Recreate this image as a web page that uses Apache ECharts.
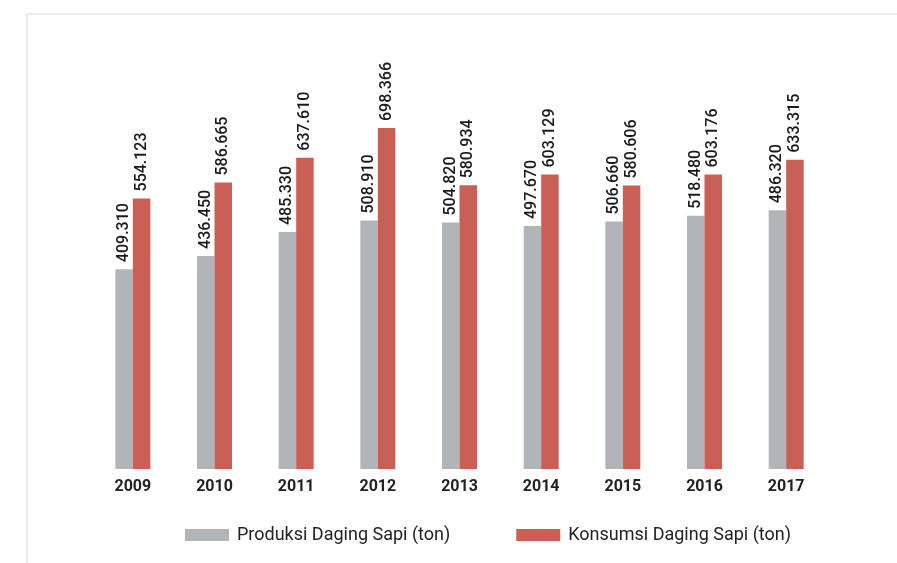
<!DOCTYPE html>
<html><head><meta charset="utf-8">
<script src="https://cdn.jsdelivr.net/npm/echarts@6/dist/echarts.min.js"></script>
<style>html,body{margin:0;padding:0;background:#fff}#c{width:897px;height:563px}</style>
</head><body><div id="c"></div>
<script>
const years = ['2009','2010','2011','2012','2013','2014','2015','2016','2017'];
// bar heights as drawn in the reference
const produksi = [409310, 436450, 485330, 508910, 504820, 497670, 506660, 518480, 530000];
const konsumsi = [554123, 586665, 637610, 698366, 580934, 603129, 580606, 603176, 633315];
// value labels as printed in the reference
const produksiLabels = ['409.310','436.450','485.330','508.910','504.820','497.670','506.660','518.480','486.320'];
const konsumsiLabels = ['554.123','586.665','637.610','698.366','580.934','603.129','580.606','603.176','633.315'];
const seriesNames = ['Produksi Daging Sapi (ton)', 'Konsumsi Daging Sapi (ton)'];

const chart = echarts.init(document.getElementById('c'));
const labelCfg = (arr) => ({
  show: true, position: 'top', rotate: 90, align: 'left', verticalAlign: 'middle',
  distance: 7, fontFamily: 'Roboto', fontWeight: 500, fontSize: 16, color: '#1a1a1a',
  formatter: p => arr[p.dataIndex]
});
chart.setOption({
  animation: false,
  backgroundColor: '#fff',
  graphic: [
    {type: 'line', shape: {x1: 27, y1: 14, x2: 897, y2: 14}, style: {stroke: '#e6e6e6', lineWidth: 1.5}},
    {type: 'line', shape: {x1: 27, y1: 14, x2: 27, y2: 563}, style: {stroke: '#e6e6e6', lineWidth: 1.5}}
  ],
  grid: {left: 92, right: 70, top: 78.4, bottom: 94, containLabel: false},
  legend: {
    bottom: 14, left: 180, itemWidth: 44, itemHeight: 12, itemGap: 66,
    icon: 'rect',
    textStyle: {fontFamily: 'Roboto', fontSize: 18, color: '#222', padding: [0, 0, 0, 3]},
    data: seriesNames
  },
  xAxis: {
    type: 'category', data: years,
    axisLine: {show: false}, axisTick: {show: false},
    axisLabel: {fontFamily: 'Roboto', fontWeight: 'bold', fontSize: 16, color: '#222', margin: 10}
  },
  yAxis: {type: 'value', min: 0, max: 800000, show: false, splitLine: {show: false}},
  series: [
    {name: seriesNames[0], type: 'bar', data: produksi, barWidth: 17.5, barGap: '0%',
     itemStyle: {color: '#b2b5b7'}, label: labelCfg(produksiLabels)},
    {name: seriesNames[1], type: 'bar', data: konsumsi, barWidth: 17.5,
     itemStyle: {color: '#c95f55'}, label: labelCfg(konsumsiLabels)}
  ]
});
</script></body></html>
